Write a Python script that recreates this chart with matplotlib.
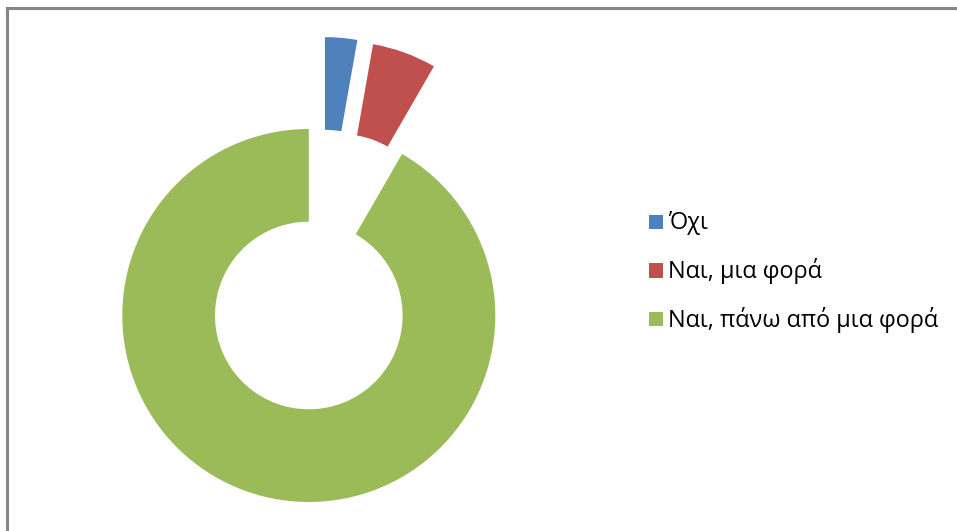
import matplotlib
matplotlib.use("Agg")
import numpy as np
import matplotlib.pyplot as plt
from matplotlib.patches import Rectangle
from matplotlib.lines import Line2D

labels = ["Όχι", "Ναι, μια φορά", "Ναι, πάνω από μια φορά"]
values = [1, 2, 33]
colors = ["#4F81BD", "#C0504D", "#9BBB59"]
explode = [0.5, 0.5, 0.0]

W, H = 957, 531
fig = plt.figure(figsize=(W / 100, H / 100), dpi=100)
fig.patch.set_facecolor("white")

R_PX = 186.5
cx, cy = 308.8, 315.5  # pixels from top-left
ax = fig.add_axes([0, 0, 1, 1])
ax.axis("off")

wedges, _ = ax.pie(values, colors=colors, explode=explode, startangle=90,
                   counterclock=False, radius=1.0,
                   wedgeprops=dict(width=0.497, linewidth=0, antialiased=True))
# Excel pushes the small first slice a little further clockwise
ang = np.deg2rad(10.0)
wedges[0].set_center((explode[0] * np.sin(ang), explode[0] * np.cos(ang)))

ax.set_xlim(-cx / R_PX, (W - cx) / R_PX)
ax.set_ylim(-(H - cy) / R_PX, cy / R_PX)
ax.set_aspect("auto")

# chart border (top and left visible)
fig.add_artist(Line2D([7.2 / W, 7.2 / W], [0, 1 - 8.2 / H], transform=fig.transFigure,
                      color="#868686", linewidth=2.2, solid_capstyle="projecting"))
fig.add_artist(Line2D([7.2 / W, 1], [1 - 8.2 / H, 1 - 8.2 / H], transform=fig.transFigure,
                      color="#868686", linewidth=2.2, solid_capstyle="projecting"))

# legend
leg_x = 648.5
leg_y = [222, 270.5, 319]
sq = 14.5
for lab, col, y in zip(labels, colors, leg_y):
    fig.add_artist(Rectangle(((leg_x) / W, 1 - (y + sq / 2) / H), sq / W, sq / H,
                             transform=fig.transFigure, facecolor=col, edgecolor="none"))
    fig.text((leg_x + 19.5) / W, 1 - (y + 1) / H, lab, fontsize=16.9, family=["Open Sans", "DejaVu Sans"],
             va="center", ha="left", color="black")

fig.savefig("out.png", dpi=100, facecolor="white")
